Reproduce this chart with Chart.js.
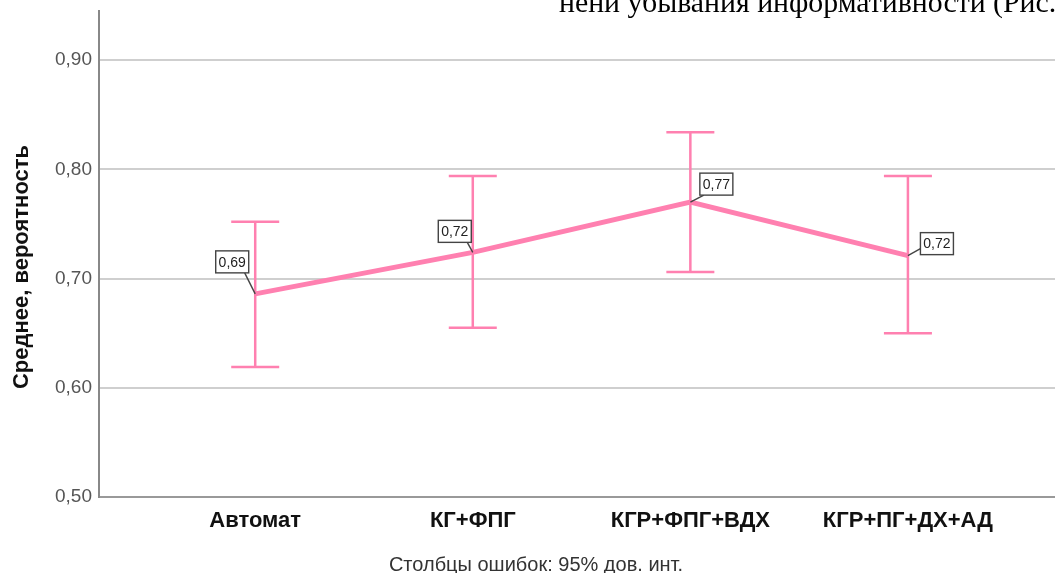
<!DOCTYPE html>
<html>
<head>
<meta charset="utf-8">
<script src="https://cdn.jsdelivr.net/npm/chart.js@4.4.1/dist/chart.umd.min.js"></script>
<style>
  html, body { margin: 0; padding: 0; background: #ffffff; }
  #wrap { width: 1055px; height: 573px; position: relative; }
</style>
</head>
<body>
<div id="wrap"><canvas id="chart"></canvas></div>
<script>
// Группы (ось X)
const categories = ['Автомат', 'КГ+ФПГ', 'КГР+ФПГ+ВДХ', 'КГР+ПГ+ДХ+АД'];
// Средние значения вероятности
const means = [0.686, 0.724, 0.770, 0.721];
// Границы 95% доверительного интервала
const lowerCI = [0.619, 0.655, 0.706, 0.650];
const upperCI = [0.752, 0.794, 0.834, 0.794];
// Метки оси Y
const yTicks = [0.50, 0.60, 0.70, 0.80, 0.90];

const yLabel = 'Среднее, вероятность';
const footerText = 'Столбцы ошибок: 95% дов. инт.';
const topText = 'нени убывания информативности (Рис.';

// смещения подписей относительно точек (px)
const labelOffsets = [[-23, -32], [-18, -21], [26, -18], [29, -12]];

const pink = '#ff80b0';

function fmt(v) {
    return v.toFixed(2).replace('.', ',');
}

// Планки погрешностей
const errorBars = {
    id: 'errorBars',
    beforeDatasetsDraw(chart) {
        const ctx = chart.ctx;
        const xs = chart.scales.x, ys = chart.scales.y;
        ctx.save();
        ctx.strokeStyle = pink;
        ctx.lineWidth = 2.5;
        categories.forEach((c, i) => {
            const x = xs.getPixelForValue(i);
            const yl = ys.getPixelForValue(lowerCI[i]);
            const yu = ys.getPixelForValue(upperCI[i]);
            ctx.beginPath();
            ctx.moveTo(x, yl); ctx.lineTo(x, yu);
            ctx.moveTo(x - 24, yl); ctx.lineTo(x + 24, yl);
            ctx.moveTo(x - 24, yu); ctx.lineTo(x + 24, yu);
            ctx.stroke();
        });
        ctx.restore();
    }
};

// Подписи значений, текст вверху, подпись оси и сноска
const extras = {
    id: 'extras',
    afterDatasetsDraw(chart) {
        const ctx = chart.ctx;
        const xs = chart.scales.x, ys = chart.scales.y;
        ctx.save();
        ctx.font = '14px Arial, "Liberation Sans"';
        ctx.textAlign = 'center';
        ctx.textBaseline = 'middle';
        means.forEach((m, i) => {
            const px = xs.getPixelForValue(i);
            const py = ys.getPixelForValue(m);
            const cx = px + labelOffsets[i][0];
            const cy = py + labelOffsets[i][1];
            const w = 33, h = 22;
            // выноска
            const ax = Math.max(cx - w / 2 + 4, Math.min(cx + w / 2 - 4, px));
            const ay = cy + h / 2;
            ctx.strokeStyle = '#444';
            ctx.lineWidth = 1.4;
            ctx.beginPath();
            if (Math.abs(cx - px) > w / 2 && labelOffsets[i][1] > -15) {
                ctx.moveTo(cx - w / 2, cy + 5);
            } else {
                ctx.moveTo(ax, ay);
            }
            ctx.lineTo(px, py);
            ctx.stroke();
            ctx.fillStyle = '#ffffff';
            ctx.fillRect(cx - w / 2, cy - h / 2, w, h);
            ctx.strokeRect(cx - w / 2, cy - h / 2, w, h);
            ctx.fillStyle = '#222';
            ctx.fillText(fmt(m), cx, cy + 1);
        });
        ctx.restore();
    },
    afterDraw(chart) {
        const ctx = chart.ctx;
        ctx.save();
        // подпись оси Y
        ctx.translate(22, 267);
        ctx.rotate(-Math.PI / 2);
        ctx.font = 'bold 22px Arial, "Liberation Sans"';
        ctx.fillStyle = '#111';
        ctx.textAlign = 'center';
        ctx.textBaseline = 'middle';
        ctx.fillText(yLabel, 0, 0);
        ctx.restore();

        ctx.save();
        ctx.font = '20px Arial, "Liberation Sans"';
        ctx.fillStyle = '#333';
        ctx.textAlign = 'center';
        ctx.textBaseline = 'middle';
        ctx.fillText(footerText, 536, 565);

        // обрезанная строка текста документа
        ctx.font = '22px "Liberation Serif", "Times New Roman", serif';
        const w22 = ctx.measureText(topText).width;
        const size = 22 * 498 / w22;
        ctx.font = size.toFixed(1) + 'px "Liberation Serif", "Times New Roman", serif';
        ctx.fillStyle = '#000';
        ctx.textAlign = 'left';
        ctx.textBaseline = 'alphabetic';
        ctx.fillText(topText, 559, 12);
        ctx.restore();
    }
};

const ctx = document.getElementById('chart').getContext('2d');
new Chart(ctx, {
    type: 'line',
    data: {
        datasets: [{
            data: means.map((m, i) => ({ x: i, y: m })),
            borderColor: pink,
            borderWidth: 5,
            pointRadius: 0,
            tension: 0,
            fill: false
        }]
    },
    options: {
        responsive: true,
        maintainAspectRatio: false,
        animation: false,
        layout: { padding: { top: 11, right: 0, left: 0, bottom: 0 } },
        plugins: {
            legend: { display: false },
            tooltip: { enabled: false }
        },
        scales: {
            x: {
                type: 'linear',
                min: -0.718,
                max: 3.676,
                afterBuildTicks: s => { s.ticks = categories.map((c, i) => ({ value: i })); },
                afterFit: s => { s.height = 76; s.paddingLeft = 0; s.paddingRight = 0; },
                grid: { display: false, drawTicks: false },
                border: { color: '#999', width: 2 },
                ticks: {
                    callback: v => categories[v],
                    font: { family: 'Arial, "Liberation Sans"', size: 22, weight: 'bold' },
                    color: '#111',
                    padding: 11,
                    maxRotation: 0,
                    autoSkip: false
                }
            },
            y: {
                min: 0.5,
                max: 0.945,
                afterBuildTicks: s => { s.ticks = yTicks.map(v => ({ value: v })); },
                afterFit: s => { s.width = 99; s.paddingTop = 0; s.paddingBottom = 0; },
                grid: { color: '#cfcfcf', lineWidth: 2, drawTicks: false },
                border: { color: '#888', width: 2 },
                ticks: {
                    callback: v => fmt(v),
                    font: { family: 'Arial, "Liberation Sans"', size: 19 },
                    color: '#555',
                    padding: 7
                }
            }
        }
    },
    plugins: [errorBars, extras]
});
</script>
</body>
</html>
